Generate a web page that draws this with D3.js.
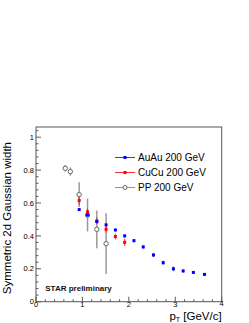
<!DOCTYPE html>
<html lang="en">
<head>
<meta charset="UTF-8">
<title>Symmetric 2d Gaussian width vs pT</title>
<script src="https://d3js.org/d3.v7.min.js"></script>
<style>
    body { margin: 0; padding: 0; background: #fff; font-family: 'Liberation Sans', Arial, sans-serif; }
    .tick-label { font-size: 7.5px; fill: #000; }
    .axis-title { font-size: 11.5px; fill: #000; }
    .legend text { font-size: 10px; fill: #000; }
</style>
</head>
<body>
<div id="chart"></div>
<script>
    // AuAu 200 GeV
    const auX = [0.93, 1.11, 1.31, 1.51, 1.71, 1.91, 2.11, 2.31, 2.53, 2.74, 2.96, 3.17, 3.39, 3.63];
    const auY = [0.560, 0.527, 0.487, 0.467, 0.436, 0.400, 0.371, 0.333, 0.284, 0.237, 0.200, 0.187, 0.178, 0.166];
    const auErr = [0.008, 0.008, 0.008, 0.008, 0.008, 0.008, 0.01, 0.01, 0.012, 0.012, 0.014, 0.01, 0.008, 0.008];

    // CuCu 200 GeV
    const cuX = [0.93, 1.11, 1.31, 1.51, 1.71, 1.91];
    const cuY = [0.615, 0.546, 0.491, 0.440, 0.396, 0.361];
    const cuErr = [0.025, 0.02, 0.02, 0.02, 0.018, 0.022];

    // PP 200 GeV
    const ppX = [0.63, 0.74, 0.93, 1.11, 1.31, 1.51];
    const ppY = [0.811, 0.791, 0.651, 0.527, 0.440, 0.353];
    const ppErr = [0.02, 0.025, 0.075, 0.1, 0.115, 0.185];

    const xTicks = [0, 1, 2, 3, 4];
    const yTicks = [0, 0.2, 0.4, 0.6, 0.8, 1];

    const W = 249, H = 323;
    const margin = { top: 127, right: 27.3, bottom: 21.3, left: 36 };
    const width = W - margin.left - margin.right;
    const height = H - margin.top - margin.bottom;

    const svg = d3.select("#chart").append("svg")
        .attr("width", W).attr("height", H);

    const x = d3.scaleLinear().domain([0, 4]).range([0, width]);
    const y = d3.scaleLinear().domain([0, 1.062]).range([height, 0]);

    const g = svg.append("g").attr("transform", `translate(${margin.left},${margin.top})`);

    // ticks drawn inside the frame, ROOT style
    const xMinor = d3.range(0, 4.001, 0.2);
    const yMinor = d3.range(0, 1.0601, 0.04);
    g.selectAll(".xminor").data(xMinor).enter().append("line")
        .attr("x1", d => x(d)).attr("x2", d => x(d))
        .attr("y1", height).attr("y2", d => height - (Math.abs(d - Math.round(d)) < 1e-6 ? 5 : 2.5))
        .attr("stroke", "#333").attr("stroke-width", 0.8);
    g.selectAll(".yminor").data(yMinor).enter().append("line")
        .attr("y1", d => y(d)).attr("y2", d => y(d))
        .attr("x1", 0).attr("x2", d => (Math.abs(d * 5 - Math.round(d * 5)) < 1e-6 ? 5 : 2.5))
        .attr("stroke", "#333").attr("stroke-width", 0.8);

    // frame
    g.append("rect").attr("width", width).attr("height", height)
        .attr("fill", "none").attr("stroke", "#555").attr("stroke-width", 1);

    g.selectAll(".xlab").data(xTicks).enter().append("text")
        .attr("class", "tick-label")
        .attr("x", d => x(d)).attr("y", d => height + (d === 4 ? 4.5 : 5.5))
        .attr("text-anchor", "middle").text(d => d);
    g.selectAll(".ylab").data(yTicks).enter().append("text")
        .attr("class", "tick-label")
        .attr("x", -2).attr("y", d => y(d) + 2.7)
        .attr("text-anchor", "end").text(d => d);

    // axis titles
    const xt = svg.append("text").attr("class", "axis-title")
        .attr("x", margin.left + width).attr("y", 319.5).attr("text-anchor", "end");
    xt.append("tspan").text("p");
    xt.append("tspan").attr("font-size", "7px").attr("dy", 2.5).text("T");
    xt.append("tspan").attr("dy", -2.5).text(" [GeV/c]");

    svg.append("text").attr("class", "axis-title")
        .attr("transform", `translate(11, ${margin.top + 15}) rotate(-90)`)
        .attr("text-anchor", "end")
        .text("Symmetric 2d Gaussian width");

    g.append("text").attr("x", x(0.2)).attr("y", y(0.065))
        .attr("font-size", "8px").attr("font-weight", "bold").attr("fill", "#111")
        .text("STAR preliminary");

    const series = [
        { name: "PP 200 GeV", xs: ppX, ys: ppY, es: ppErr, color: "#777", open: true },
        { name: "CuCu 200 GeV", xs: cuX, ys: cuY, es: cuErr, color: "#ff0000", open: false },
        { name: "AuAu 200 GeV", xs: auX, ys: auY, es: auErr, color: "#0000ff", open: false }
    ];

    series.forEach(s => {
        const pts = s.xs.map((v, i) => ({ x: v, y: s.ys[i], e: s.es[i] }));
        const sg = g.append("g");
        sg.selectAll("line").data(pts).enter().append("line")
            .attr("x1", d => x(d.x)).attr("x2", d => x(d.x))
            .attr("y1", d => y(d.y - d.e)).attr("y2", d => y(d.y + d.e))
            .attr("stroke", s.open ? "#999" : s.color)
            .attr("stroke-width", s.open ? 1.5 : 0.8);
        if (s.open) {
            sg.selectAll("circle").data(pts).enter().append("circle")
                .attr("cx", d => x(d.x)).attr("cy", d => y(d.y)).attr("r", 2.2)
                .attr("fill", "#fff").attr("stroke", "#666").attr("stroke-width", 1);
        } else {
            sg.selectAll("rect").data(pts).enter().append("rect")
                .attr("x", d => x(d.x) - 1.5).attr("y", d => y(d.y) - 1.5)
                .attr("width", 3).attr("height", 3).attr("fill", s.color);
        }
    });

    // legend
    const legendItems = [series[2], series[1], series[0]];
    const legend = svg.append("g").attr("class", "legend").attr("transform", "translate(115, 157.5)");
    legendItems.forEach((s, i) => {
        const row = legend.append("g").attr("transform", `translate(0, ${i * 15})`);
        row.append("line").attr("x1", 0).attr("x2", 20).attr("y1", 0).attr("y2", 0)
            .attr("stroke", s.color).attr("stroke-width", 0.8);
        if (s.open) {
            row.append("circle").attr("cx", 10).attr("cy", 0).attr("r", 2)
                .attr("fill", "#fff").attr("stroke", "#666");
        } else {
            row.append("rect").attr("x", 8.5).attr("y", -1.5).attr("width", 3).attr("height", 3)
                .attr("fill", s.color);
        }
        row.append("text").attr("x", 23).attr("y", 3.5).text(s.name);
    });
</script>
</body>
</html>
